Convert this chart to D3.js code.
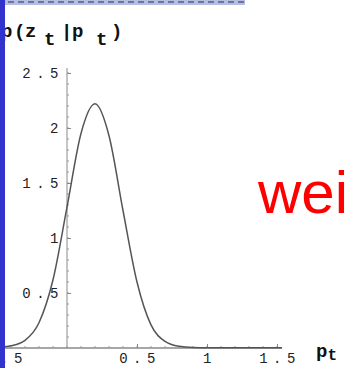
<!DOCTYPE html>
<html>
<head>
<meta charset="utf-8">
<script src="https://cdn.jsdelivr.net/npm/d3@7"></script>
<style>
  body { margin: 0; background: #fff; }
  svg { display: block; }
</style>
</head>
<body>
<div id="viz"></div>
<script>
// curve samples
var pts = [-0.55, -0.45, -0.4, -0.3, -0.2, -0.1, 0, 0.1, 0.2, 0.3, 0.4, 0.5, 0.6, 0.7, 0.8, 0.9, 1.0, 1.2, 1.536];
var dens = [0.002, 0.01, 0.02, 0.07, 0.23, 0.62, 1.28, 1.95, 2.22, 1.93, 1.25, 0.6, 0.21, 0.06, 0.015, 0.004, 0.002, 0.002, 0.002];
var xTicks = [-0.5, 0.5, 1, 1.5];
var yTicks = [0.5, 1, 1.5, 2, 2.5];
var xMinor = d3.range(-0.5, 1.51, 0.1);
var yMinor = d3.range(0.1, 2.51, 0.1);

var width = 348, height = 368;

var x = d3.scaleLinear().domain([0, 1.5]).range([67, 277]);
var y = d3.scaleLinear().domain([0, 2.5]).range([348, 73]);

var svg = d3.select('#viz').append('svg')
  .attr('width', width)
  .attr('height', height);

var mono = '"Liberation Mono", "DejaVu Sans Mono", monospace';

// axes lines
svg.append('line')
  .attr('x1', x(-0.55)).attr('x2', x(1.536))
  .attr('y1', y(0)).attr('y2', y(0))
  .attr('stroke', '#8a8a8a').attr('stroke-width', 1.6);
svg.append('line')
  .attr('x1', x(0)).attr('x2', x(0))
  .attr('y1', y(0)).attr('y2', y(2.545))
  .attr('stroke', '#8a8a8a').attr('stroke-width', 1);

// minor ticks
svg.append('g').selectAll('line').data(xMinor)
  .enter().append('line')
    .attr('x1', function(d) { return x(d); })
    .attr('x2', function(d) { return x(d); })
    .attr('y1', y(0)).attr('y2', y(0) - 2)
    .attr('stroke', '#999');
svg.append('g').selectAll('line').data(yMinor)
  .enter().append('line')
    .attr('x1', x(0)).attr('x2', x(0) + 2)
    .attr('y1', function(d) { return y(d); })
    .attr('y2', function(d) { return y(d); })
    .attr('stroke', '#999');

// major ticks + labels
var xAxis = d3.axisBottom(x)
  .tickValues(xTicks)
  .tickFormat(function(d) { return d3.format('')(d); })
  .tickSizeInner(-4)
  .tickSizeOuter(0)
  .tickPadding(5);
var xg = svg.append('g')
  .attr('transform', 'translate(0,' + y(0) + ')')
  .call(xAxis);
xg.select('.domain').remove();
xg.selectAll('.tick line').attr('stroke', '#888');
xg.selectAll('.tick text')
  .attr('fill', '#222')
  .attr('dx', 2.5)
  .style('font-family', mono)
  .style('font-size', '14px')
  .style('letter-spacing', '5.5px');

var yAxis = d3.axisLeft(y)
  .tickValues(yTicks)
  .tickFormat(function(d) { return d3.format('')(d); })
  .tickSizeInner(-4)
  .tickSizeOuter(0)
  .tickPadding(3);
var yg = svg.append('g')
  .attr('transform', 'translate(' + x(0) + ',0)')
  .call(yAxis);
yg.select('.domain').remove();
yg.selectAll('.tick line').attr('stroke', '#888');
yg.selectAll('.tick text')
  .attr('fill', '#222')
  .style('font-family', mono)
  .style('font-size', '14px')
  .style('letter-spacing', '5.5px');

// the curve
var line = d3.line()
  .x(function(d, i) { return x(pts[i]); })
  .y(function(d) { return y(d); })
  .curve(d3.curveMonotoneX);

svg.append('path')
  .datum(dens)
  .attr('d', line)
  .attr('fill', 'none')
  .attr('stroke', '#555')
  .attr('stroke-width', 1.5);

// axis titles
var titleChars = [
  { t: 'p', x: 1, sub: false },
  { t: '(', x: 14, sub: false },
  { t: 'z', x: 25, sub: false },
  { t: 't', x: 44, sub: true },
  { t: '|', x: 61, sub: false },
  { t: 'p', x: 72, sub: false },
  { t: 't', x: 96, sub: true },
  { t: ')', x: 111, sub: false }
];
svg.append('text')
  .attr('fill', '#111')
  .style('font-family', mono)
  .style('font-size', '19px')
  .style('font-weight', 'bold')
  .selectAll('tspan').data(titleChars)
  .enter().append('tspan')
    .attr('x', function(d) { return d.x; })
    .attr('y', function(d) { return d.sub ? 45 : 37; })
    .text(function(d) { return d.t; });

var xt = svg.append('text')
  .attr('x', 316).attr('y', 357)
  .attr('fill', '#111')
  .style('font-family', mono)
  .style('font-size', '19px')
  .style('font-weight', 'bold');
xt.append('tspan').text('p');
xt.append('tspan').attr('dy', 3).style('font-size', '16px').text('t');

// red word on the slide
svg.append('text')
  .attr('x', 258).attr('y', 213)
  .attr('fill', '#ff0000')
  .style('font-family', '"Liberation Sans", Arial, sans-serif')
  .style('font-size', '60px')
  .text('wei');

// slide frame: blue strip and header edge
svg.append('rect')
  .attr('x', 5).attr('y', 0).attr('width', 240).attr('height', 5)
  .attr('fill', '#b4bfe0');
svg.append('g').selectAll('rect').data(d3.range(0, 24))
  .enter().append('rect')
    .attr('x', function(d) { return 8 + d * 10; })
    .attr('y', 1).attr('width', 6).attr('height', 2)
    .attr('fill', '#6a74a8');
svg.append('rect')
  .attr('x', 0).attr('y', 0).attr('width', 5).attr('height', height)
  .attr('fill', '#3232cc');
</script>
</body>
</html>
